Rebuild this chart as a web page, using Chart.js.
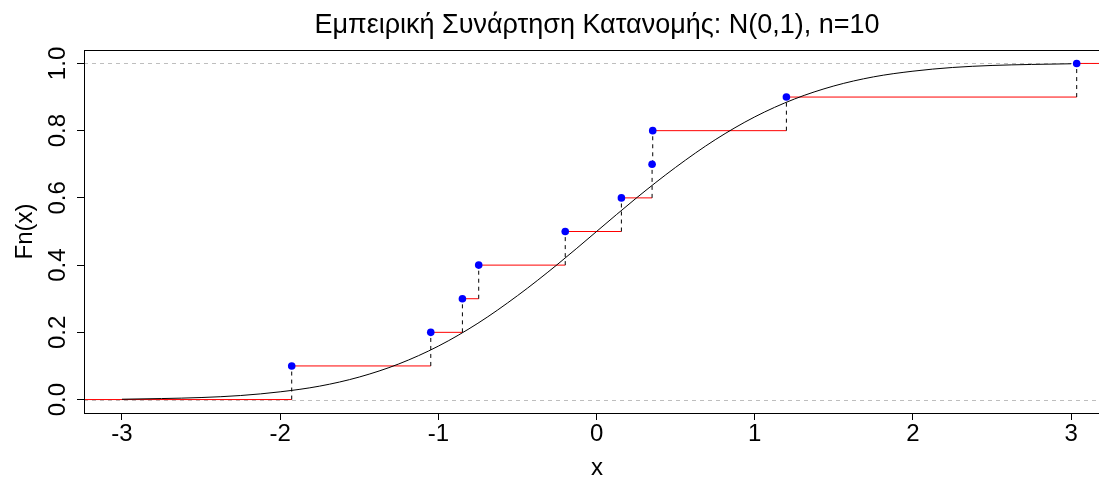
<!DOCTYPE html>
<html>
<head>
<meta charset="utf-8">
<script src="https://cdn.jsdelivr.net/npm/chart.js@4"></script>
<style>
  html, body { margin: 0; padding: 0; background: #fff; overflow: hidden; }
  #wrap { width: 1099px; height: 477px; position: relative; }
</style>
</head>
<body>
<div id="wrap"><canvas id="ecdfChart"></canvas></div>
<script>
// δείγμα (ταξινομημένο) και τιμές της εμπειρικής συνάρτησης
const sampleX = [-1.927, -1.048, -0.848, -0.745, -0.198, 0.157, 0.351, 0.355, 1.200, 3.035];
const ecdfY = [0.1, 0.2, 0.3, 0.4, 0.5, 0.6, 0.7, 0.8, 0.9, 1.0];

// θεωρητική N(0,1), τιμές διαβασμένες από την καμπύλη
const curveX = [-3, -2.75, -2.5, -2.25, -2, -1.75, -1.5, -1.25, -1, -0.75, -0.5, -0.25, 0,
  0.25, 0.5, 0.75, 1, 1.25, 1.5, 1.75, 2, 2.25, 2.5, 2.75, 3];
const curveY = [0.001, 0.003, 0.006, 0.012, 0.023, 0.040, 0.067, 0.106, 0.159, 0.227, 0.309, 0.401, 0.5,
  0.599, 0.691, 0.773, 0.841, 0.894, 0.933, 0.960, 0.977, 0.988, 0.994, 0.997, 0.999];

const xTicks = [-3, -2, -1, 0, 1, 2, 3];
const yTicks = [0, 0.2, 0.4, 0.6, 0.8, 1.0];
const xLim = [-3.24, 3.176];
const yLim = [-0.04, 1.04];

const titleText = "Εμπειρική Συνάρτηση Κατανομής: N(0,1), n=10";
const FONT = "'Liberation Sans', Arial, sans-serif";

// οριζόντια κόκκινα τμήματα
const stepSegs = [];
stepSegs.push({ x: xLim[0], y: 0 }, { x: sampleX[0], y: 0 }, { x: sampleX[0], y: null });
for (let i = 0; i < sampleX.length; i++) {
  const xEnd = i + 1 < sampleX.length ? sampleX[i + 1] : xLim[1];
  stepSegs.push({ x: sampleX[i], y: ecdfY[i] }, { x: xEnd, y: ecdfY[i] }, { x: xEnd, y: null });
}

// κατακόρυφες διακεκομμένες
const vertSegs = [];
for (let i = 0; i < sampleX.length; i++) {
  const prev = i === 0 ? 0 : ecdfY[i - 1];
  vertSegs.push({ x: sampleX[i], y: prev }, { x: sampleX[i], y: ecdfY[i] }, { x: sampleX[i], y: null });
}

const points = sampleX.map((x, i) => ({ x, y: ecdfY[i] }));
const curve = curveX.map((x, i) => ({ x, y: curveY[i] }));

const decorPlugin = {
  id: "decor",
  beforeDatasetsDraw(chart) {
    const { ctx, chartArea: a, scales } = chart;
    ctx.save();
    ctx.strokeStyle = "#bebebe";
    ctx.lineWidth = 1;
    ctx.setLineDash([4, 4]);
    for (const v of [0, 1]) {
      const py = Math.round(scales.y.getPixelForValue(v)) + 0.5;
      ctx.beginPath();
      ctx.moveTo(a.left, py);
      ctx.lineTo(a.right, py);
      ctx.stroke();
    }
    ctx.restore();
  },
  afterDraw(chart) {
    const { ctx, chartArea: a, scales } = chart;
    ctx.save();
    // πλαίσιο
    ctx.strokeStyle = "#000";
    ctx.lineWidth = 1;
    ctx.strokeRect(Math.round(a.left) + 0.5, Math.round(a.top) + 0.5, a.right - a.left + 5, a.bottom - a.top);

    ctx.fillStyle = "#000";
    // ετικέτες άξονα y, κατακόρυφα
    ctx.font = "24px " + FONT;
    ctx.textAlign = "center";
    ctx.textBaseline = "alphabetic";
    for (const v of yTicks) {
      const py = scales.y.getPixelForValue(v);
      ctx.save();
      ctx.translate(65, py);
      ctx.rotate(-Math.PI / 2);
      ctx.fillText(v.toFixed(1), 0, 0);
      ctx.restore();
    }
    // τίτλοι αξόνων
    ctx.save();
    ctx.translate(32, (a.top + a.bottom) / 2);
    ctx.rotate(-Math.PI / 2);
    ctx.fillText("Fn(x)", 0, 0);
    ctx.restore();
    ctx.fillText("x", 597, 475);
    // τίτλος
    ctx.font = "27px " + FONT;
    ctx.fillText(titleText, 597, 33);
    ctx.restore();
  }
};

new Chart(document.getElementById("ecdfChart"), {
  type: "scatter",
  data: {
    datasets: [
      {
        data: points,
        showLine: false,
        pointRadius: 3.8,
        pointBackgroundColor: "#0000ff",
        pointBorderWidth: 0
      },
      {
        data: curve,
        showLine: true,
        borderColor: "#000",
        borderWidth: 1,
        pointRadius: 0,
        cubicInterpolationMode: "monotone"
      },
      {
        data: vertSegs,
        showLine: true,
        spanGaps: false,
        borderColor: "#000",
        borderWidth: 1,
        borderDash: [4, 4],
        pointRadius: 0
      },
      {
        data: stepSegs,
        showLine: true,
        spanGaps: false,
        borderColor: "#ff0000",
        borderWidth: 1,
        pointRadius: 0
      }
    ]
  },
  options: {
    animation: false,
    responsive: true,
    maintainAspectRatio: false,
    devicePixelRatio: 1,
    layout: { autoPadding: false, padding: { top: 50, right: 0, left: 0, bottom: 0 } },
    plugins: {
      legend: { display: false },
      tooltip: { enabled: false }
    },
    scales: {
      x: {
        type: "linear",
        min: xLim[0],
        max: xLim[1],
        afterFit(scale) { scale.height = 64; },
        afterBuildTicks(scale) { scale.ticks = xTicks.map(v => ({ value: v })); },
        border: { display: false },
        grid: { drawOnChartArea: false, color: "#000", tickLength: 7 },
        ticks: {
          color: "#000",
          font: { size: 24, family: FONT },
          padding: 0,
          maxRotation: 0,
          callback: v => String(v)
        }
      },
      y: {
        type: "linear",
        min: yLim[0],
        max: yLim[1],
        afterFit(scale) { scale.width = 84; },
        afterBuildTicks(scale) { scale.ticks = yTicks.map(v => ({ value: v })); },
        border: { display: false },
        grid: { drawOnChartArea: false, color: "#000", tickLength: 7 },
        ticks: { display: false }
      }
    }
  },
  plugins: [decorPlugin]
});
</script>
</body>
</html>
